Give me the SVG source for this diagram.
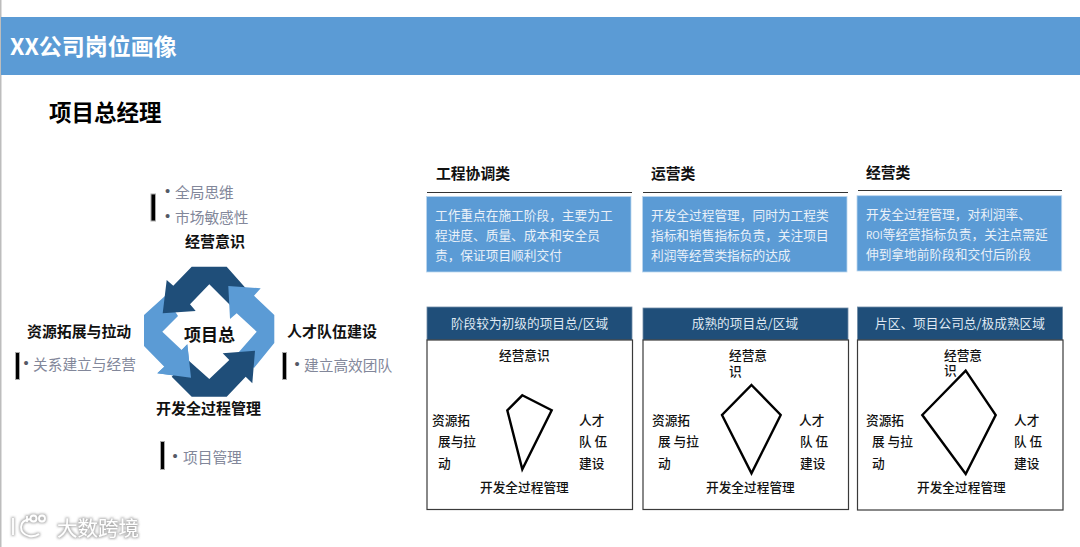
<svg xmlns="http://www.w3.org/2000/svg" width="1080" height="547" viewBox="0 0 1080 547">
<style>
text{font-family:"Noto Sans CJK SC","Liberation Sans",sans-serif;dominant-baseline:central}
.h{font-weight:700;fill:#111}
.g{fill:#82879a;font-size:14.7px}
.k{fill:#555966;font-family:"Liberation Sans",sans-serif}
.d{fill:#eaf1f9;font-size:12.7px}
.t{fill:#dfe8f2;font-size:12.7px;text-anchor:middle}
.r{font-size:12.7px;fill:#111;font-weight:500}
.rule{stroke:#333;stroke-width:1.2;fill:none}
.blue{fill:#5b9bd5;stroke:#bcd6ee;stroke-width:.8}
.navy{fill:#1f4e79;stroke:#6f8ba5;stroke-width:.8}
.box{fill:#fff;stroke:#3a3a3a;stroke-width:1.2}
.rad{fill:none;stroke:#000;stroke-width:2.4;stroke-linejoin:miter}
.bar{fill:#000;stroke:#aaa;stroke-width:1}
.L{fill:#5b9bd5}.D{fill:#1f4e79}
</style>
<defs>
<filter id="halo" x="-10%" y="-30%" width="120%" height="160%">
<feMorphology in="SourceAlpha" operator="dilate" radius="0.8" result="m"/>
<feGaussianBlur in="m" stdDeviation="1.1" result="b"/>
<feFlood flood-color="#9a9a9a" flood-opacity=".75"/>
<feComposite in2="b" operator="in" result="s"/>
<feMerge><feMergeNode in="s"/><feMergeNode in="SourceGraphic"/></feMerge>
</filter>
</defs>
<rect width="1080" height="547" fill="#fff"/>
<rect x="0" y="0" width="1.5" height="547" fill="#bdbdbd"/>
<g id="header">
<rect x="1" y="17" width="1079" height="58" fill="#5b9bd5"/>
<text x="10" y="44.5" font-size="23" font-weight="700" fill="#fff">XX公司岗位画像</text>
</g>
<text id="subtitle" x="49" y="110.5" font-size="22.5" font-weight="700" fill="#000">项目总经理</text>

<g id="cycle">
<polygon class="L" points="144,315 165,296 178,316 162.3,331.7 181.7,350 187.3,344.3 191,377.7 157.3,373.3 164.3,366.7 144,346"/>
<polygon class="D" points="191.7,266.7 226.7,266.7 250,293 235,310 209.3,284.3 190,304.3 195.7,311 162.7,313.3 166.7,280 173.3,285.7"/>
<polygon class="L" points="228.3,286 260.7,288.3 254,295.7 274.3,315 274.3,343 254,368 238,353 256.7,331.7 236.7,313.3 230,319"/>
<polygon class="D" points="255,350.7 252.3,383.3 245.7,376.7 226.7,396.7 191.7,396.7 171.7,376.7 188,360 209.3,379 229.3,360 222.7,353.3"/>
<polygon class="L" points="181.7,350 187.3,344.3 191,377.7 157.3,373.3 164.3,366.7"/>
<text class="h" x="184" y="333.5" font-size="17">项目总</text>
</g>

<g id="n-top">
<rect class="bar" x="151" y="194" width="4.5" height="27"/>
<text class="g" x="165" y="190.5"><tspan class="k">•</tspan><tspan x="175">全局思维</tspan></text>
<text class="g" x="165" y="215.5"><tspan class="k">•</tspan><tspan x="175">市场敏感性</tspan></text>
<text class="h" x="185" y="240.5" font-size="15">经营意识</text>
</g>
<g id="n-left">
<text class="h" x="27" y="330.5" font-size="14.9">资源拓展与拉动</text>
<rect class="bar" x="15.5" y="352.5" width="4" height="27"/>
<text class="g" x="23.5" y="362.5"><tspan class="k">•</tspan><tspan x="33">关系建立与经营</tspan></text>
</g>
<g id="n-right">
<text class="h" x="287" y="330.5" font-size="15">人才队伍建设</text>
<rect class="bar" x="282.5" y="352.5" width="4" height="27"/>
<text class="g" x="294.5" y="363.5"><tspan class="k">•</tspan><tspan x="304">建立高效团队</tspan></text>
</g>
<g id="n-bottom">
<text class="h" x="156" y="407.5" font-size="15">开发全过程管理</text>
<rect class="bar" x="160.5" y="441.5" width="4" height="28"/>
<text class="g" x="172.5" y="455.5"><tspan class="k">•</tspan><tspan x="183">项目管理</tspan></text>
</g>

<g id="col1">
<text class="h" x="436" y="172.5" font-size="14.8">工程协调类</text>
<line class="rule" x1="427" y1="192.5" x2="632" y2="192.5"/>
<rect class="blue" x="426.5" y="196.5" width="204.5" height="75.5"/>
<text class="d" x="435" y="214.5">工作重点在施工阶段，主要为工</text>
<text class="d" x="435" y="234.5">程进度、质量、成本和安全员</text>
<text class="d" x="435" y="254.5">责，保证项目顺利交付</text>
<rect class="navy" x="427" y="307" width="205" height="33"/>
<text class="t" x="529.5" y="322">阶段较为初级的项目总/区域</text>
<rect class="box" x="427" y="340" width="205.5" height="169.5"/>
<polygon class="rad" points="522.3,395.3 551.7,410.3 522.3,469.3 507.3,410.3"/>
<text class="r" x="499" y="354.5">经营意识</text>
<text class="r" x="432" y="419.5">资源拓</text><text class="r" x="438" y="440.5">展与拉</text><text class="r" x="438" y="462.5">动</text>
<text class="r" x="579" y="419.5">人才</text><text class="r" x="579" y="440.5" xml:space="preserve">队 伍</text><text class="r" x="579" y="462.5">建设</text>
<text class="r" x="480" y="486.5">开发全过程管理</text>
</g>

<g id="col2">
<text class="h" x="651" y="172.5" font-size="14.8">运营类</text>
<line class="rule" x1="643" y1="192.5" x2="848" y2="192.5"/>
<rect class="blue" x="642.5" y="196.5" width="204.5" height="75.5"/>
<text class="d" x="651" y="214.5">开发全过程管理，同时为工程类</text>
<text class="d" x="651" y="234.5">指标和销售指标负责，关注项目</text>
<text class="d" x="651" y="254.5">利润等经营类指标的达成</text>
<rect class="navy" x="643" y="308" width="205" height="32"/>
<text class="t" x="745" y="322">成熟的项目总/区域</text>
<rect class="box" x="643" y="340" width="205.5" height="169.5"/>
<polygon class="rad" points="751.5,385 780.7,415 751.5,473.3 722,415"/>
<text class="r" x="729" y="354.5">经营意<tspan x="729" dy="15">识</tspan></text>
<text class="r" x="652" y="419.5">资源拓</text><text class="r" x="658" y="440.5" xml:space="preserve">展 与拉</text><text class="r" x="658" y="462.5">动</text>
<text class="r" x="799" y="419.5">人才</text><text class="r" x="800" y="440.5" xml:space="preserve">队 伍</text><text class="r" x="800" y="462.5">建设</text>
<text class="r" x="706" y="486.5">开发全过程管理</text>
</g>

<g id="col3">
<text class="h" x="866" y="171.5" font-size="14.8">经营类</text>
<line class="rule" x1="858" y1="190.5" x2="1062" y2="190.5"/>
<rect class="blue" x="857" y="195.7" width="204.7" height="75.3"/>
<text class="d" x="866" y="213.5">开发全过程管理，对利润率、</text>
<text class="d" x="866" y="233.5"><tspan font-size="10">ROI</tspan>等经营指标负责，关注点需延</text>
<text class="d" x="866" y="253.5">伸到拿地前阶段和交付后阶段</text>
<rect class="navy" x="857.5" y="307" width="205" height="33"/>
<text class="t" x="960" y="322">片区、项目公司总/极成熟区域</text>
<rect class="box" x="857.5" y="340" width="205.5" height="170"/>
<polygon class="rad" points="965.7,370.7 995.7,415 965.7,474 922.3,415"/>
<text class="r" x="944" y="354.5">经营意<tspan x="944" dy="14.5">识</tspan></text>
<text class="r" x="866" y="419.5">资源拓</text><text class="r" x="872" y="440.5" xml:space="preserve">展 与拉</text><text class="r" x="872" y="462.5">动</text>
<text class="r" x="1014" y="419.5">人才</text><text class="r" x="1014" y="440.5" xml:space="preserve">队 伍</text><text class="r" x="1014" y="462.5">建设</text>
<text class="r" x="917" y="486.5">开发全过程管理</text>
</g>

<g id="watermark" filter="url(#halo)">
<g fill="none" stroke="#fff" stroke-width="1.8">
<path d="M13 518v17M31 519q-10 1-10 8t8 9q6 1 10-2"/><path d="M27 516v6"/><circle cx="33.5" cy="518.5" r="3"/><circle cx="42" cy="518.5" r="3"/>
</g>
<text x="57" y="527" font-size="20.5" fill="#fff">大数跨境</text>
</g>
</svg>
